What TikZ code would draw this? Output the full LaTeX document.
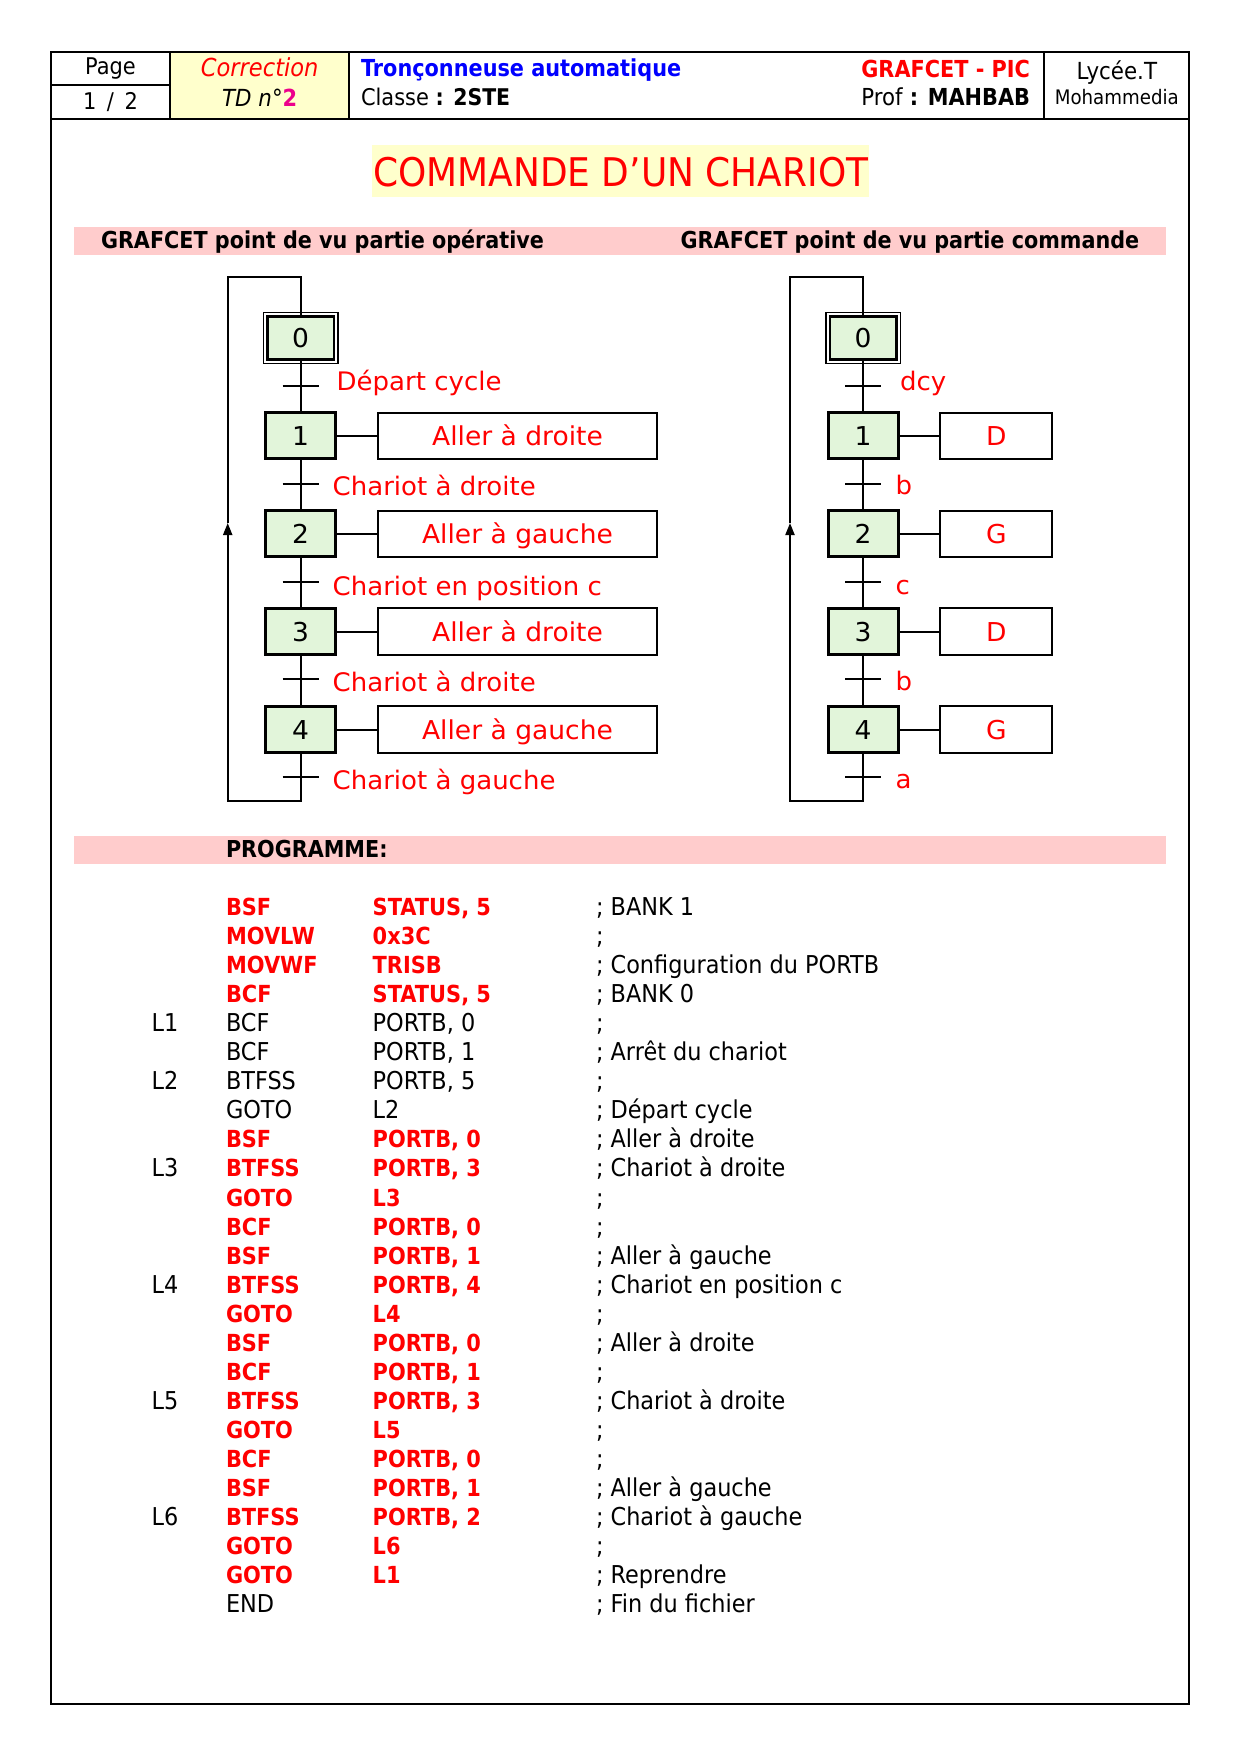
\documentclass[tikz,border=0pt]{standalone}
\usepackage{fontspec}
\setmainfont{DejaVu Sans}[UprightFeatures={FakeStretch=0.91},BoldFeatures={FakeStretch=0.89},ItalicFeatures={FakeStretch=0.91}]
\newfontfamily\gf{DejaVu Sans}[FakeStretch=1.02]
\usetikzlibrary{arrows.meta}
\definecolor{stepgreen}{RGB}{226,245,218}
\definecolor{titleyellow}{RGB}{255,255,204}
\definecolor{corryellow}{RGB}{255,255,204}
\definecolor{bandpink}{RGB}{255,204,204}
\newcommand\fsz[1]{\fontsize{#1pt}{#1pt}\selectfont}
\newcommand\crow[6]{%
  \pgfmathsetmacro\yy{915.5+29.05*(#1-1)}%
  \node[lab] (lab#1) at (151.7,\yy) {#2};
  \node[#6] (ins#1) at (226,\yy) {#3};
  \node[#6] (opd#1) at (372.7,\yy) {#4};
  \node[lab] (com#1) at (596,\yy) {#5};
}
\tikzset{
  every node/.style={inner sep=0pt, outer sep=0pt},
  frame/.style={line width=2pt},
  stepbox/.style={draw, line width=3pt, fill=stepgreen, minimum width=70pt, minimum height=46pt, font=\gf\fsz{26}, text height=19pt, text depth=0pt},
  initbox/.style={draw, line width=2.5pt, fill=stepgreen, minimum width=66.5pt, minimum height=43.2pt, font=\gf\fsz{26}, text height=19pt, text depth=0pt},
  actbox/.style={draw, line width=2pt, minimum height=46.6pt, font=\gf\fsz{26}, text=red, text height=19pt, text depth=0pt},
  link/.style={line width=2pt},
  tick/.style={line width=2pt},
  tlabel/.style={anchor=base west, font=\gf\fsz{25.5}, text=red},
  lab/.style={anchor=base west, font=\fsz{24.6}},
  ck/.style={anchor=base west, font=\fsz{24.6}},
  cr/.style={anchor=base west, font=\bfseries\fsz{23.5}, text=red},
  hdr/.style={font=\fsz{23}},
}
\begin{document}
\begin{tikzpicture}[x=1pt,y=-1pt]
\useasboundingbox (0,0) rectangle (1245,1755);
% ---------- header ----------
\fill[corryellow] (170,52.3) rectangle (349.3,119);
\draw[frame] (51,52.3) rectangle (1189.3,1704);
\draw[frame] (51,119) -- (1189.3,119);
\draw[frame] (51,85) -- (170,85);
\draw[frame] (170,52.3) -- (170,119);
\draw[frame] (349.3,52.3) -- (349.3,119);
\draw[frame] (1044.3,52.3) -- (1044.3,119);
\node[anchor=base, hdr] (pg) at (110.5,75) {Page};
\node[anchor=base, hdr] (pn) at (110.5,109.5) {1\hspace{4pt} / \hspace{4pt}2};
\node[anchor=base, font=\itshape\fsz{24.8}, text=red] (corr) at (259.7,77) {Correction};
\node[anchor=base, font=\itshape\fsz{23.5}] (td) at (259.7,106.7) {TD n°\textcolor{magenta}{\upshape\bfseries 2}};
\node[anchor=base west, font=\bfseries\fsz{23.4}, text=blue] (tit) at (361,76.7) {Tronçonneuse automatique};
\node[anchor=base west, hdr] (cls) at (361,106) {Classe \textbf{: 2STE}};
\node[anchor=base east, font=\bfseries\fsz{23.4}, text=red] (gp) at (1030,77.7) {GRAFCET - PIC};
\node[anchor=base east, font=\fsz{23.4}] (prof) at (1030,106) {Prof \textbf{: MAHBAB}};
\node[anchor=base, font=\fsz{23.5}] (ly) at (1116.8,80) {Lycée.T};
\node[anchor=base, font=\fsz{20}] (mo) at (1116.8,105) {Mohammedia};
% ---------- title ----------
\fill[titleyellow] (372.3,145) rectangle (869,196.7);
\node[anchor=base west, font=\fsz{39.5}, text=red] (title) at (373.3,186) {COMMANDE D’UN CHARIOT};
% ---------- bands ----------
\fill[bandpink] (74.3,226.7) rectangle (1165.5,255);
\node[anchor=base west, font=\bfseries\fsz{23.3}] (b1) at (101,248.3) {GRAFCET point de vu partie opérative};
\node[anchor=base west, font=\bfseries\fsz{23.3}] (b2) at (680.7,248.3) {GRAFCET point de vu partie commande};
\fill[bandpink] (74.3,835.5) rectangle (1165.5,864);
\node[anchor=base west, font=\bfseries\fsz{23.3}] (prog) at (226,857) {PROGRAMME:};
% ---------- left GRAFCET ----------
\node[initbox] (L0) at (300.5,338) {0};
\draw[line width=1.5pt] ([shift={(-4pt,4pt)}]L0.north west) rectangle ([shift={(4pt,-4pt)}]L0.south east);
\node[stepbox] (L1) at (300.5,435.9) {1};
\node[stepbox] (L2) at (300.5,533.8) {2};
\node[stepbox] (L3) at (300.5,631.7) {3};
\node[stepbox] (L4) at (300.5,729.6) {4};
\node[actbox, minimum width=279.6pt] (LA1) at (517.5,435.9) {Aller à droite};
\node[actbox, minimum width=279.6pt] (LA2) at (517.5,533.8) {Aller à gauche};
\node[actbox, minimum width=279.6pt] (LA3) at (517.5,631.7) {Aller à droite};
\node[actbox, minimum width=279.6pt] (LA4) at (517.5,729.6) {Aller à gauche};
\coordinate (TL0) at (300.5,386);
\coordinate (TL1) at (300.5,483.8);
\coordinate (TL2) at (300.5,581.7);
\coordinate (TL3) at (300.5,679.2);
\coordinate (TL4) at (300.5,777.3);
\draw[link] (L0) -- (L1);
\draw[link] (L1) -- (L2);
\draw[link] (L2) -- (L3);
\draw[link] (L3) -- (L4);
\draw[link] (L1) -- (LA1);
\draw[link] (L2) -- (LA2);
\draw[link] (L3) -- (LA3);
\draw[link] (L4) -- (LA4);
\foreach \t in {TL0,TL1,TL2,TL3,TL4}{\draw[tick] ([xshift=-18pt]\t) -- ([xshift=18pt]\t);}
\node[tlabel] (tl0) at (336.7,390) {Départ cycle};
\node[tlabel] (tl1) at (332.7,495) {Chariot à droite};
\node[tlabel] (tl2) at (332.7,595) {Chariot en position c};
\node[tlabel] (tl3) at (332.7,691.7) {Chariot à droite};
\node[tlabel] (tl4) at (332.7,789.3) {Chariot à gauche};
\coordinate (LB) at (227.7,800.7);
\coordinate (LM) at (227.7,523);
\coordinate (LT) at (227.7,277.3);
\draw[link,-{Triangle[length=12pt,width=9pt]}] (L4.south) |- (LB) -- (LM);
\draw[link] (LM) -- (LT) -| (L0.north);
% ---------- right GRAFCET ----------
\node[initbox] (R0) at (863,338) {0};
\draw[line width=1.5pt] ([shift={(-4pt,4pt)}]R0.north west) rectangle ([shift={(4pt,-4pt)}]R0.south east);
\node[stepbox] (R1) at (863,435.9) {1};
\node[stepbox] (R2) at (863,533.8) {2};
\node[stepbox] (R3) at (863,631.7) {3};
\node[stepbox] (R4) at (863,729.6) {4};
\node[actbox, minimum width=112pt] (RA1) at (996.3,435.9) {D};
\node[actbox, minimum width=112pt] (RA2) at (996.3,533.8) {G};
\node[actbox, minimum width=112pt] (RA3) at (996.3,631.7) {D};
\node[actbox, minimum width=112pt] (RA4) at (996.3,729.6) {G};
\coordinate (TR0) at (863,386);
\coordinate (TR1) at (863,483.8);
\coordinate (TR2) at (863,581.7);
\coordinate (TR3) at (863,679.2);
\coordinate (TR4) at (863,777.3);
\draw[link] (R0) -- (R1);
\draw[link] (R1) -- (R2);
\draw[link] (R2) -- (R3);
\draw[link] (R3) -- (R4);
\draw[link] (R1) -- (RA1);
\draw[link] (R2) -- (RA2);
\draw[link] (R3) -- (RA3);
\draw[link] (R4) -- (RA4);
\foreach \t in {TR0,TR1,TR2,TR3,TR4}{\draw[tick] ([xshift=-18pt]\t) -- ([xshift=18pt]\t);}
\node[tlabel] (tr0) at (900,390.8) {dcy};
\node[tlabel] (tr1) at (895.7,494.3) {b};
\node[tlabel] (tr2) at (895.7,594) {c};
\node[tlabel] (tr3) at (895.7,690.6) {b};
\node[tlabel] (tr4) at (895.7,788.6) {a};
\coordinate (RB) at (790,800.7);
\coordinate (RM) at (790,523);
\coordinate (RT) at (790,276.5);
\draw[link,-{Triangle[length=12pt,width=9pt]}] (R4.south) |- (RB) -- (RM);
\draw[link] (RM) -- (RT) -| (R0.north);
% ---------- program ----------
\crow{1}{}{BSF}{STATUS, 5}{; BANK 1}{cr}
\crow{2}{}{MOVLW}{0x3C}{;}{cr}
\crow{3}{}{MOVWF}{TRISB}{; Configuration du PORTB}{cr}
\crow{4}{}{BCF}{STATUS, 5}{; BANK 0}{cr}
\crow{5}{L1}{BCF}{PORTB, 0}{;}{ck}
\crow{6}{}{BCF}{PORTB, 1}{; Arrêt du chariot}{ck}
\crow{7}{L2}{BTFSS}{PORTB, 5}{;}{ck}
\crow{8}{}{GOTO}{L2}{; Départ cycle}{ck}
\crow{9}{}{BSF}{PORTB, 0}{; Aller à droite}{cr}
\crow{10}{L3}{BTFSS}{PORTB, 3}{; Chariot à droite}{cr}
\crow{11}{}{GOTO}{L3}{;}{cr}
\crow{12}{}{BCF}{PORTB, 0}{;}{cr}
\crow{13}{}{BSF}{PORTB, 1}{; Aller à gauche}{cr}
\crow{14}{L4}{BTFSS}{PORTB, 4}{; Chariot en position c}{cr}
\crow{15}{}{GOTO}{L4}{;}{cr}
\crow{16}{}{BSF}{PORTB, 0}{; Aller à droite}{cr}
\crow{17}{}{BCF}{PORTB, 1}{;}{cr}
\crow{18}{L5}{BTFSS}{PORTB, 3}{; Chariot à droite}{cr}
\crow{19}{}{GOTO}{L5}{;}{cr}
\crow{20}{}{BCF}{PORTB, 0}{;}{cr}
\crow{21}{}{BSF}{PORTB, 1}{; Aller à gauche}{cr}
\crow{22}{L6}{BTFSS}{PORTB, 2}{; Chariot à gauche}{cr}
\crow{23}{}{GOTO}{L6}{;}{cr}
\crow{24}{}{GOTO}{L1}{; Reprendre}{cr}
\crow{25}{}{END}{}{; Fin du fichier}{ck}
\end{tikzpicture}
\end{document}
